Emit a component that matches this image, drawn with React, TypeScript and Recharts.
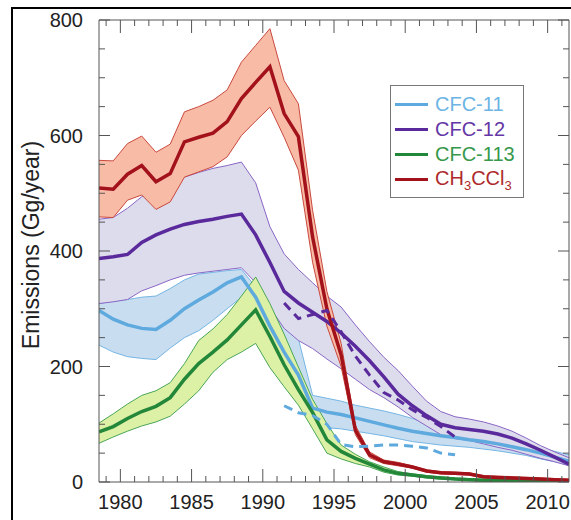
import { ComposedChart, Area, Line, XAxis, YAxis } from 'recharts';

// annual emissions, plotted at mid-year
const YEARS = [
  1978, 1979, 1980, 1981, 1982, 1983, 1984, 1985, 1986, 1987, 1988, 1989,
  1990, 1991, 1992, 1993, 1994, 1995, 1996, 1997, 1998, 1999, 2000, 2001,
  2002, 2003, 2004, 2005, 2006, 2007, 2008, 2009, 2010, 2011,
];

const CFC11 = [297, 282, 272, 266, 264, 280, 300, 315, 329, 345, 355, 320, 270, 225, 185, 128, 121, 117, 111, 105, 99, 93, 88, 84, 80, 77, 73, 70, 66, 61, 56, 50, 43, 36];
const CFC11_HI = [309, 313, 316, 320, 322, 335, 350, 360, 363, 366, 368, 338, 305, 276, 248, 150, 145, 140, 133, 128, 123, 117, 110, 102, 97, 92, 88, 84, 79, 73, 67, 60, 53, 47];
const CFC11_LO = [237, 225, 217, 214, 212, 232, 250, 262, 280, 300, 320, 290, 245, 200, 160, 102, 94, 92, 88, 84, 80, 75, 70, 67, 64, 62, 60, 57, 54, 50, 46, 40, 35, 29];
const CFC11_ALT = [null, null, null, null, null, null, null, null, null, null, null, null, null, 132, 120, 115, 100, 65, 61, 62, 64, 64, 62, 59, 50, 47, null, null, null, null, null, null, null, null];

const CFC12 = [387, 390, 394, 415, 428, 438, 446, 451, 455, 460, 464, 428, 380, 330, 310, 294, 278, 258, 235, 210, 182, 152, 132, 115, 100, 94, 91, 88, 83, 76, 66, 55, 43, 31];
const CFC12_HI = [455, 458, 474, 494, 505, 515, 528, 536, 543, 548, 554, 518, 442, 395, 368, 345, 322, 303, 272, 243, 216, 193, 166, 140, 122, 113, 109, 104, 97, 88, 76, 63, 52, 42];
const CFC12_LO = [309, 312, 316, 331, 340, 350, 358, 362, 365, 368, 371, 345, 302, 266, 245, 231, 213, 196, 178, 160, 146, 130, 112, 97, 82, 75, 72, 66, 60, 55, 48, 41, 35, 28];
const CFC12_ALT = [null, null, null, null, null, null, null, null, null, null, null, null, null, 310, 283, 290, 297, 260, 218, 185, 155, 142, 125, 112, 96, 78, null, null, null, null, null, null, null, null];

const CFC113 = [87, 96, 110, 122, 131, 146, 178, 205, 225, 246, 272, 298, 252, 203, 160, 120, 73, 53, 41, 31, 21, 15, 12, 9, 7, 5, 4, 3, 3, 2, 2, 2, 2, 1];
const CFC113_HI = [102, 118, 135, 150, 158, 172, 205, 245, 265, 290, 322, 355, 309, 256, 199, 143, 101, 64, 48, 35, 26, 18, 14, 11, 9, 7, 6, 5, 4, 4, 3, 3, 3, 2];
const CFC113_LO = [67, 78, 88, 97, 104, 114, 135, 158, 190, 212, 225, 240, 198, 165, 133, 92, 50, 40, 32, 26, 17, 12, 10, 7, 5, 4, 3, 2, 2, 1, 1, 1, 1, 0];

const CH3CCL3 = [509, 507, 533, 548, 520, 534, 589, 597, 604, 624, 664, 692, 719, 638, 598, 424, 300, 220, 90, 47, 35, 31, 26, 19, 16, 15, 14, 9, 8, 7, 6, 5, 4, 3];
const CH3CCL3_HI = [557, 556, 586, 599, 571, 585, 641, 650, 661, 679, 727, 756, 785, 695, 655, 470, 330, 240, 98, 52, 38, 34, 28, 21, 18, 17, 16, 11, 10, 9, 8, 7, 6, 5];
const CH3CCL3_LO = [459, 458, 488, 497, 472, 485, 528, 537, 546, 563, 600, 625, 649, 597, 540, 380, 270, 200, 82, 42, 32, 28, 24, 17, 14, 13, 12, 7, 6, 5, 4, 3, 2, 1];

const X_TICKS = [
  1979, 1980, 1981, 1982, 1983, 1984, 1985, 1986, 1987, 1988, 1989, 1990,
  1991, 1992, 1993, 1994, 1995, 1996, 1997, 1998, 1999, 2000, 2001, 2002,
  2003, 2004, 2005, 2006, 2007, 2008, 2009, 2010, 2011,
];
const Y_TICKS = [0, 50, 100, 150, 200, 250, 300, 350, 400, 450, 500, 550, 600, 650, 700, 750, 800];

const COLORS = {
  cfc11: '#5eaade',
  cfc12: '#5a2a9c',
  cfc113: '#23873a',
  ch3ccl3: '#a3121a',
};
const FILLS = {
  cfc11: '#c9ddf0',
  cfc12: '#dcdcec',
  cfc113: '#dcf0a6',
  ch3ccl3: '#f8bca6',
};
const EDGES = {
  cfc11: '#74b6e4',
  cfc12: '#8a66c6',
  cfc113: '#4aa656',
  ch3ccl3: '#c9483e',
};

const LEGEND_ITEMS = [
  { key: 'cfc11', label: 'CFC-11', text: '#6cb4e4' },
  { key: 'cfc12', label: 'CFC-12', text: '#6436a6' },
  { key: 'cfc113', label: 'CFC-113', text: '#35984a' },
  { key: 'ch3ccl3', label: 'CH3CCl3', text: '#ae2a2c' },
];

const AXIS = '#555';
const FONT = '"Liberation Sans", Arial, Helvetica, sans-serif';

const data = YEARS.map((year, i) => ({
  x: year + 0.5,
  cfc11: CFC11[i],
  cfc11Band: [CFC11_LO[i], CFC11_HI[i]],
  cfc11Alt: CFC11_ALT[i],
  cfc12: CFC12[i],
  cfc12Band: [CFC12_LO[i], CFC12_HI[i]],
  cfc12Alt: CFC12_ALT[i],
  cfc113: CFC113[i],
  cfc113Band: [CFC113_LO[i], CFC113_HI[i]],
  ch3ccl3: CH3CCL3[i],
  ch3ccl3Band: [CH3CCL3_LO[i], CH3CCL3_HI[i]],
}));

const BottomTick = ({ x, y, payload }: any) => {
  const major = payload.value % 5 === 0;
  return (
    <g>
      <line x1={x} x2={x} y1={y} y2={y - (major ? 13 : 6)} stroke={AXIS} />
      {major && (
        <text x={x} y={y + 27} textAnchor="middle" fontSize={20} fontFamily={FONT} fill="#222">
          {payload.value}
        </text>
      )}
    </g>
  );
};

const TopTick = ({ x, y, payload }: any) => {
  const major = payload.value % 5 === 0;
  return <line x1={x} x2={x} y1={y} y2={y + (major ? 13 : 6)} stroke={AXIS} />;
};

const LeftTick = ({ x, y, payload }: any) => {
  const major = payload.value % 200 === 0;
  return (
    <g>
      <line x1={x} x2={x + (major ? 11 : 6)} y1={y} y2={y} stroke={AXIS} />
      {major && (
        <text x={x - 16} y={y + 7} textAnchor="end" fontSize={20} fontFamily={FONT} fill="#222">
          {payload.value}
        </text>
      )}
    </g>
  );
};

const RightTick = ({ x, y, payload }: any) => {
  const major = payload.value % 200 === 0;
  return <line x1={x} x2={x - (major ? 11 : 6)} y1={y} y2={y} stroke={AXIS} />;
};

const YLabel = () => (
  <text
    x={39}
    y={245}
    transform="rotate(-90 39 245)"
    textAnchor="middle"
    fontSize={23}
    fontFamily={FONT}
    fill="#222"
  >
    Emissions (Gg/year)
  </text>
);

const LegendBox = () => (
  <div
    style={{
      position: 'absolute',
      left: 390,
      top: 85,
      width: 134,
      height: 113,
      boxSizing: 'border-box',
      border: '1.5px solid #777',
      background: '#fff',
      paddingTop: 6,
      fontFamily: FONT,
      fontSize: 20,
    }}
  >
    {LEGEND_ITEMS.map((item) => (
      <div key={item.key} style={{ display: 'flex', alignItems: 'center', height: 25 }}>
        <span
          style={{
            display: 'inline-block',
            width: 33,
            height: 3,
            marginLeft: 4,
            marginRight: 7,
            background: COLORS[item.key as keyof typeof COLORS],
          }}
        />
        <span style={{ color: item.text, whiteSpace: 'nowrap' }}>
          {item.key === 'ch3ccl3' ? (
            <>
              CH<sub style={{ fontSize: 13 }}>3</sub>CCl<sub style={{ fontSize: 13 }}>3</sub>
            </>
          ) : (
            item.label
          )}
        </span>
      </div>
    ))}
  </div>
);

export default function App() {
  return (
    <div style={{ position: 'fixed', left: 0, top: 0, width: 571, height: 520, overflow: 'hidden', background: '#fff' }}>
      <div
        style={{
          position: 'absolute',
          left: 11,
          top: 7,
          width: 600,
          height: 600,
          borderTop: '2px solid #000',
          borderLeft: '2px solid #000',
        }}
      />
      <ComposedChart width={571} height={520} data={data} margin={{ top: 0, right: 0, bottom: 0, left: 0 }}>
        <XAxis
          xAxisId="bottom"
          dataKey="x"
          type="number"
          domain={[1978.5, 2011.5]}
          allowDataOverflow
          ticks={X_TICKS}
          interval={0}
          tickSize={0}
          tickMargin={0}
          tick={<BottomTick />}
          axisLine={{ stroke: AXIS }}
          height={38}
        />
        <XAxis
          xAxisId="top"
          orientation="top"
          dataKey="x"
          type="number"
          domain={[1978.5, 2011.5]}
          allowDataOverflow
          ticks={X_TICKS}
          interval={0}
          tickSize={0}
          tickMargin={0}
          tick={<TopTick />}
          axisLine={{ stroke: AXIS }}
          height={20}
        />
        <YAxis
          yAxisId="left"
          type="number"
          domain={[0, 800]}
          allowDataOverflow
          ticks={Y_TICKS}
          interval={0}
          tickSize={0}
          tickMargin={0}
          tick={<LeftTick />}
          axisLine={{ stroke: AXIS }}
          width={99}
          label={<YLabel />}
        />
        <YAxis
          yAxisId="right"
          orientation="right"
          type="number"
          domain={[0, 800]}
          allowDataOverflow
          ticks={Y_TICKS}
          interval={0}
          tickSize={0}
          tickMargin={0}
          tick={<RightTick />}
          axisLine={{ stroke: AXIS }}
          width={2}
        />

        <Area xAxisId="bottom" yAxisId="left" dataKey="cfc11Band" fill={FILLS.cfc11} fillOpacity={1} stroke={EDGES.cfc11} strokeWidth={1} isAnimationActive={false} />
        <Area xAxisId="bottom" yAxisId="left" dataKey="cfc12Band" fill={FILLS.cfc12} fillOpacity={1} stroke={EDGES.cfc12} strokeWidth={1} isAnimationActive={false} />
        <Line xAxisId="bottom" yAxisId="left" dataKey="cfc11" stroke={COLORS.cfc11} strokeWidth={3.5} dot={false} isAnimationActive={false} />
        <Area xAxisId="bottom" yAxisId="left" dataKey="cfc113Band" fill={FILLS.cfc113} fillOpacity={1} stroke={EDGES.cfc113} strokeWidth={1} isAnimationActive={false} />
        <Line xAxisId="bottom" yAxisId="left" dataKey="cfc113" stroke={COLORS.cfc113} strokeWidth={3.5} dot={false} isAnimationActive={false} />
        <Line xAxisId="bottom" yAxisId="left" dataKey="cfc12" stroke={COLORS.cfc12} strokeWidth={3.5} dot={false} isAnimationActive={false} />
        <Area xAxisId="bottom" yAxisId="left" dataKey="ch3ccl3Band" fill={FILLS.ch3ccl3} fillOpacity={1} stroke={EDGES.ch3ccl3} strokeWidth={1} isAnimationActive={false} />
        <Line xAxisId="bottom" yAxisId="left" dataKey="ch3ccl3" stroke={COLORS.ch3ccl3} strokeWidth={3.5} dot={false} isAnimationActive={false} />
        <Line xAxisId="bottom" yAxisId="left" dataKey="cfc11Alt" stroke={COLORS.cfc11} strokeWidth={3} strokeDasharray="9 6" dot={false} isAnimationActive={false} />
        <Line xAxisId="bottom" yAxisId="left" dataKey="cfc12Alt" stroke={COLORS.cfc12} strokeWidth={3} strokeDasharray="9 6" dot={false} isAnimationActive={false} />
      </ComposedChart>
      <LegendBox />
    </div>
  );
}
